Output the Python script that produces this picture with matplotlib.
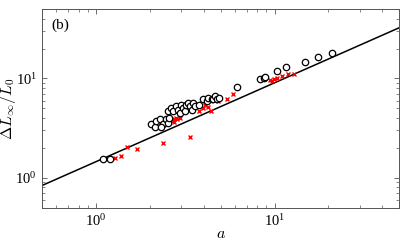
import matplotlib
matplotlib.use("Agg")
import matplotlib.pyplot as plt
import numpy as np

plt.rcParams['mathtext.fontset'] = 'cm'
plt.rcParams['font.family'] = 'serif'
plt.rcParams['font.serif'] = ['Liberation Serif', 'DejaVu Serif']

# open circles (measured)
a_circ = [1.09, 1.19, 2.04, 2.13, 2.18, 2.29, 2.37, 2.32, 2.45, 2.53, 2.57, 2.53,
          2.64, 2.70, 2.82, 2.88, 2.95, 3.01, 3.08, 3.14, 3.21, 3.28, 3.35, 3.43,
          3.50, 3.58, 3.78, 3.99, 4.16, 4.25, 4.44, 4.54, 4.64, 4.74, 4.91, 6.14,
          8.24, 8.68, 8.87, 10.3, 11.54, 14.9, 17.5, 20.9]
dl_circ = [1.53, 1.53, 3.50, 3.26, 3.72, 3.93, 3.52, 3.24, 3.93, 3.58, 4.02, 4.69,
           5.07, 4.69, 5.27, 4.87, 4.51, 5.47, 5.07, 4.69, 5.47, 5.69, 5.27, 4.87,
           5.69, 5.27, 5.35, 6.15, 5.91, 6.39, 6.15, 6.24, 6.64, 6.15, 6.29, 8.18,
           9.92, 10.08, 10.3, 11.86, 13.0, 14.8, 16.3, 18.0]

# red crosses (model)
a_cross = [1.28, 1.38, 1.49, 1.69, 2.37, 3.38, 2.67, 2.74, 2.79, 2.85, 2.95, 2.73,
           3.78, 3.99, 4.07, 4.25, 4.39, 4.84, 5.40, 5.88, 9.46, 9.67, 9.88, 10.3,
           11.0, 11.85, 12.8]
dl_cross = [1.57, 1.67, 2.04, 1.94, 2.22, 2.55, 3.72, 3.87, 4.02, 3.95, 3.99, 3.63,
            4.69, 5.07, 5.35, 5.19, 4.76, 5.91, 6.15, 6.90, 9.55, 9.40, 9.77, 10.15,
            10.7, 11.2, 11.2]

# fitted power law, end points
a_fit = [0.5, 50]
dl_fit = [0.84, 32.4]

fig = plt.figure(figsize=(4.07, 2.43), dpi=100)
ax = fig.add_axes([0.104, 0.145, 0.877, 0.818])

ax.plot(a_fit, dl_fit, color='black', lw=1.1, zorder=1)
ax.plot(a_circ, dl_circ, 'o', ms=4.6, mfc='white', mec='black', mew=0.9, zorder=3)
ax.plot(a_cross, dl_cross, 'x', ms=3.4, color='red', mew=1.0, zorder=2)

ax.set_xscale('log')
ax.set_yscale('log')
ax.set_xlim(0.5, 50)
ax.set_ylim(0.5, 50)

ax.tick_params(which='both', direction='in', top=True, right=True, colors='#555555',
               labelcolor='black', labelsize=10.5)
ax.tick_params(which='major', length=3.5, width=0.6, pad=4)
ax.tick_params(which='minor', length=2, width=0.5)
for s in ax.spines.values():
    s.set_color('#555555')
    s.set_linewidth(0.7)

ax.set_xlabel(r'$a$', fontsize=11.5)
ax.xaxis.set_label_coords(0.5, -0.09)
ax.set_ylabel(r'$\Delta L_\infty/L_0$', fontsize=11.5)
ax.yaxis.set_label_coords(-0.069, 0.5)
ax.text(0.025, 0.95, '(b)', transform=ax.transAxes, ha='left', va='top', fontsize=11)

fig.savefig('out.png', dpi=100)
